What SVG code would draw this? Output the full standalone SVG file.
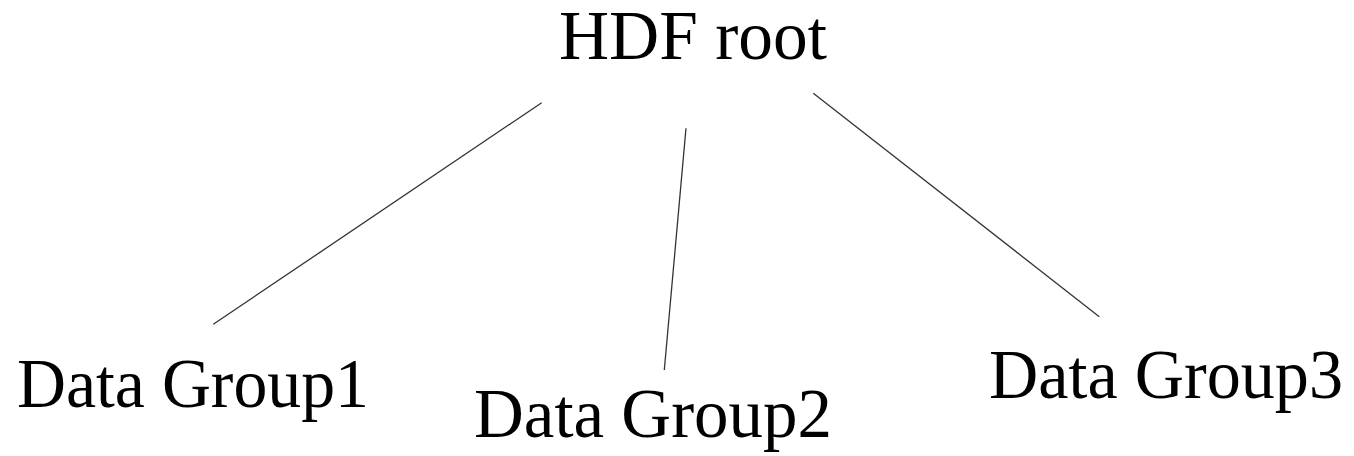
<svg xmlns="http://www.w3.org/2000/svg" width="1354" height="456" viewBox="0 0 1354 456">
<style>
.lbl{font-family:"Liberation Serif","Times New Roman",serif;font-size:70px;fill:#000}
.edge{stroke:#333;stroke-width:1.3;fill:none}
</style>
<rect width="1354" height="456" fill="#fff"/>
<g id="connectors">
<line class="edge" x1="541.7" y1="102.7" x2="213.3" y2="324.3"/>
<line class="edge" x1="686" y1="128.3" x2="664.3" y2="370"/>
<line class="edge" x1="813.3" y1="93.3" x2="1099.3" y2="316.7"/>
</g>
<g id="root"><text class="lbl" x="559" y="59" textLength="268" lengthAdjust="spacingAndGlyphs">HDF root</text></g>
<g id="group1"><text class="lbl" x="17" y="407" textLength="352" lengthAdjust="spacingAndGlyphs">Data Group1</text></g>
<g id="group2"><text class="lbl" x="474" y="437" textLength="358" lengthAdjust="spacingAndGlyphs">Data Group2</text></g>
<g id="group3"><text class="lbl" x="989" y="398" textLength="354" lengthAdjust="spacingAndGlyphs">Data Group3</text></g>
</svg>
